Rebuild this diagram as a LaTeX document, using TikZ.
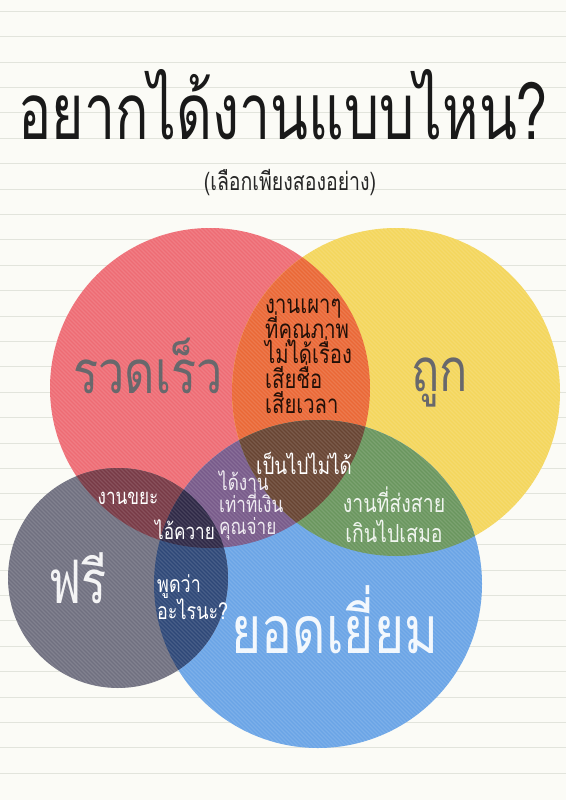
\documentclass[tikz,border=0pt]{standalone}
\usepackage{fontspec}
\newfontfamily\thaititle[Script=Thai,FakeStretch=0.71]{Loma}
\newfontfamily\thaifont[Script=Thai,FakeStretch=0.78]{Loma}
\usetikzlibrary{positioning}
\definecolor{paper}{RGB}{251,251,246}
\definecolor{ruleline}{RGB}{226,228,220}
\definecolor{fastred}{RGB}{238,108,116}
\definecolor{cheapyel}{RGB}{244,214,92}
\definecolor{goodblue}{RGB}{106,164,230}
\definecolor{freegray}{RGB}{112,112,128}
\definecolor{rushorange}{RGB}{234,104,54}
\definecolor{latebrown}{RGB}{104,68,50}
\definecolor{slowgreen}{RGB}{106,150,94}
\definecolor{paidpurple}{RGB}{120,90,138}
\definecolor{junkred}{RGB}{120,58,70}
\definecolor{foolnavy}{RGB}{46,40,70}
\definecolor{whatnavy}{RGB}{46,72,120}
\definecolor{inkgray}{RGB}{104,104,108}
% the four circles, in pixels
\newcommand\fastcirc{(210,388) circle (160)}
\newcommand\cheapcirc{(396,392) circle (164)}
\newcommand\goodcirc{(318,584) circle (164)}
\newcommand\freecirc{(118,578) circle (110)}
\begin{document}
\begin{tikzpicture}[x=1pt, y=-1pt, lbl/.style={inner sep=0pt},
    big/.style={lbl, font=\thaifont\fontsize{60}{60}\selectfont},
    small/.style={lbl, font={\thaifont\fontsize{22}{22}\selectfont\lineskiplimit=-40pt}, text=white}]
  \useasboundingbox (0,0) rectangle (566,800);
  \fill[paper] (0,0) rectangle (566,800);
  \foreach \y in {11.2,36.6,...,790} \draw[ruleline, line width=0.8] (0,\y) -- (566,\y);
  % circles and overlaps
  \fill[fastred] \fastcirc;
  \fill[cheapyel] \cheapcirc;
  \fill[goodblue] \goodcirc;
  \fill[freegray] \freecirc;
  \begin{scope} \clip \fastcirc; \fill[rushorange] \cheapcirc; \end{scope}
  \begin{scope} \clip \fastcirc; \fill[paidpurple] \goodcirc; \end{scope}
  \begin{scope} \clip \cheapcirc; \fill[slowgreen] \goodcirc; \end{scope}
  \begin{scope} \clip \fastcirc; \fill[junkred] \freecirc; \end{scope}
  \begin{scope} \clip \goodcirc; \fill[whatnavy] \freecirc; \end{scope}
  \begin{scope} \clip \fastcirc; \clip \cheapcirc; \fill[latebrown] \goodcirc; \end{scope}
  \begin{scope} \clip \fastcirc; \clip \goodcirc; \fill[foolnavy] \freecirc; \end{scope}
  % fine stripes
  \begin{scope}
    \clip \fastcirc \cheapcirc \goodcirc \freecirc;
    \foreach \k in {-600,-596,...,570} \draw[white, opacity=0.12, line width=1.3] (\k,200) -- ++(600,600);
  \end{scope}
  % texts
  \node[lbl, font=\thaititle\fontsize{78}{78}\selectfont, text=black!90] (title) at (283,105) {อยากได้งานแบบไหน?};
  \node[lbl, font=\thaifont\fontsize{25}{25}\selectfont, text=black!85] (sub) at (290,183) {(เลือกเพียงสองอย่าง)};
  \node[big, text=inkgray] (fast) at (148,366) {รวดเร็ว};
  \node[big, text=inkgray] (cheap) at (440,382) {ถูก};
  \node[big, text=white!92!freegray] (free) at (78,578) {ฟรี};
  \node[big, text=white!92!goodblue, font=\thaifont\fontsize{66}{66}\selectfont] (good) at (335,620) {ยอดเยี่ยม};
  \node[small, font={\thaifont\fontsize{26}{25}\selectfont\lineskiplimit=-40pt}, text=black!85!rushorange,
    anchor=west, align=left] (rush) at (265,356) {งานเผาๆ\\ที่คุณภาพ\\ไม่ได้เรื่อง\\เสียชื่อ\\เสียเวลา};
  \node[small, font={\thaifont\fontsize{24}{24}\selectfont}] (never) at (304,463) {เป็นไปไม่ได้};
  \node[small, text=white!88!paidpurple, anchor=west, align=left] (paid) at (219,505) {ได้งาน\\เท่าที่เงิน\\คุณจ่าย};
  \node[small] (junk) at (128,498) {งานขยะ};
  \node[small] (fool) at (185,530) {ไอ้ควาย};
  \node[small, font={\thaifont\fontsize{23}{27}\selectfont\lineskiplimit=-40pt}, anchor=west, align=left] (what) at (157,597) {พูดว่า\\อะไรนะ?};
  \node[small, font={\thaifont\fontsize{25}{30}\selectfont\lineskiplimit=-40pt}, text=white!90!slowgreen,
    align=center] (late) at (394,515) {งานที่ส่งสาย\\เกินไปเสมอ};
\end{tikzpicture}
\end{document}
